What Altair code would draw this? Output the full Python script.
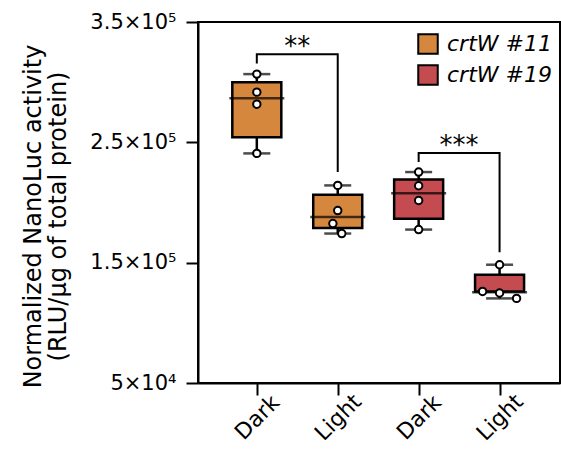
import altair as alt
import pandas as pd

# ---------------- data ----------------
groups = ["Dark", "Light", "Dark", "Light"]
strains = ["crtW #11", "crtW #11", "crtW #19", "crtW #19"]
points = [
    [306700, 291700, 281700, 240800],
    [214200, 193300, 182500, 174200],
    [225300, 213900, 201700, 177500],
    [148300, 126100, 124800, 120300],
]
jitter = [
    [0, 0, 0, 0],
    [0, 0, -0.06, 0.05],
    [0, 0, 0, 0],
    [0, -0.21, 0, 0.21],
]
q1 = [254200, 178900, 186400, 126000]
median = [286700, 187900, 207700, 125400]
q3 = [300000, 206400, 219200, 140000]

bracket_left = [0, 2]
bracket_right = [1, 3]
bracket_top = [323100, 241100]
bracket_left_end = [315600, 233600]
bracket_right_end = [225300, 158600]
bracket_labels = ["**", "***"]

legend_labels = ["crtW #11", "crtW #19"]
colors = ["#D5883D", "#C44C50"]

y_tick_values = [50000, 150000, 250000, 350000]
y_tick_labels = ["5×10⁴", "1.5×10⁵", "2.5×10⁵", "3.5×10⁵"]
y_title = ["Normalized NanoLuc activity", "(RLU/µg of total protein)"]

# ---------------- tables ----------------
box_df = pd.DataFrame({
    "pos": list(range(len(groups))),
    "strain": strains,
    "q1": q1, "median": median, "q3": q3,
    "lo": [min(p) for p in points],
    "hi": [max(p) for p in points],
})
pts_rows = []
for i, (vals, jit) in enumerate(zip(points, jitter)):
    for v, j in zip(vals, jit):
        pts_rows.append({"pos": i + j, "value": v})
pts_df = pd.DataFrame(pts_rows)

br_rows = []
for b in range(len(bracket_left)):
    br_rows += [
        {"id": b, "o": 0, "pos": bracket_left[b], "value": bracket_left_end[b]},
        {"id": b, "o": 1, "pos": bracket_left[b], "value": bracket_top[b]},
        {"id": b, "o": 2, "pos": bracket_right[b], "value": bracket_top[b]},
        {"id": b, "o": 3, "pos": bracket_right[b], "value": bracket_right_end[b]},
    ]
br_df = pd.DataFrame(br_rows)
lab_df = pd.DataFrame({
    "pos": [(a + b) / 2 for a, b in zip(bracket_left, bracket_right)],
    "value": bracket_top,
    "text": bracket_labels,
})

FONT = "DejaVu Sans"
x_label_expr = "[" + ",".join("'%s'" % g for g in groups) + "][datum.value]"
y_label_expr = "".join(
    "datum.value == %d ? '%s' : " % (v, t) for v, t in zip(y_tick_values, y_tick_labels)
) + "''"

x_axis = alt.Axis(values=list(range(len(groups))), labelExpr=x_label_expr, title=None,
                  labelAngle=315, labelAlign="center", labelBaseline="middle",
                  labelPadding=22, labelFontSize=22, labelOverlap=False, labelFlush=False)
y_axis = alt.Axis(values=y_tick_values, labelExpr=y_label_expr, title=y_title,
                  labelFontSize=21, labelPadding=10, labelOverlap=False, labelFlush=False,
                  titleFontSize=24, titleLineHeight=25, titleAngle=270,
                  titleAlign="center", titleBaseline="top", titleX=-177, titleY=194)
x_scale = alt.Scale(domain=[-0.665, 3.685], nice=False, zero=False)
y_scale = alt.Scale(domain=[50000, 350000], nice=False, zero=False)


def X(field="pos"):
    return alt.X(field + ":Q", scale=x_scale, axis=x_axis)


def Y(field):
    return alt.Y(field + ":Q", scale=y_scale, axis=y_axis)


whisk = alt.Chart(box_df).mark_rule(color="black", strokeWidth=2.5).encode(
    x=X(), y=Y("lo"), y2="hi:Q")
box = alt.Chart(box_df).mark_bar(width=49, stroke="black", strokeWidth=2.5, opacity=1).encode(
    x=X(), y=Y("q1"), y2="q3:Q",
    color=alt.Color("strain:N", scale=alt.Scale(domain=legend_labels, range=colors),
                    legend=alt.Legend(title=None, orient="none", legendX=219, legendY=11,
                                      symbolType="square", symbolSize=380,
                                      symbolStrokeWidth=2, symbolStrokeColor="black",
                                      labelFontSize=22, labelFontStyle="italic",
                                      labelFont=FONT, labelColor="black",
                                      labelOffset=8, rowPadding=3, padding=0)))
med = alt.Chart(box_df).mark_tick(orient="horizontal", size=55, thickness=2.5, color="black").encode(
    x=X(), y=Y("median"))
cap_hi = alt.Chart(box_df).mark_tick(orient="horizontal", size=27, thickness=2.5, color="black").encode(
    x=X(), y=Y("hi"))
cap_lo = alt.Chart(box_df).mark_tick(orient="horizontal", size=27, thickness=2.5, color="black").encode(
    x=X(), y=Y("lo"))
pts = alt.Chart(pts_df).mark_point(shape="circle", filled=True, fill="white", stroke="black",
                                   strokeWidth=2, size=55, opacity=1).encode(
    x=X(), y=Y("value"))
brackets = alt.Chart(br_df).mark_line(color="black", strokeWidth=2, strokeJoin="miter").encode(
    x=X(), y=Y("value"), detail="id:N", order="o:Q")
stars = alt.Chart(lab_df).mark_text(font=FONT, fontSize=26, baseline="alphabetic",
                                    align="center", dy=1, color="black").encode(
    x=X(), y=Y("value"), text="text:N")

chart = alt.layer(whisk, box, med, cap_hi, cap_lo, pts, brackets, stars).properties(
    width=362, height=361,
    padding={"left": 198, "top": 22, "right": 1, "bottom": 73},
    autosize=alt.AutoSizeParams(type="none"),
).configure_view(stroke="black", strokeWidth=2).configure_axis(
    grid=False, domainColor="black", domainWidth=2, tickColor="black", tickWidth=2,
    tickSize=12, labelColor="black", titleColor="black", labelFont=FONT,
    titleFont=FONT, titleFontWeight="normal")

chart.save("out.html", embed_options={"renderer": "svg", "actions": False})
